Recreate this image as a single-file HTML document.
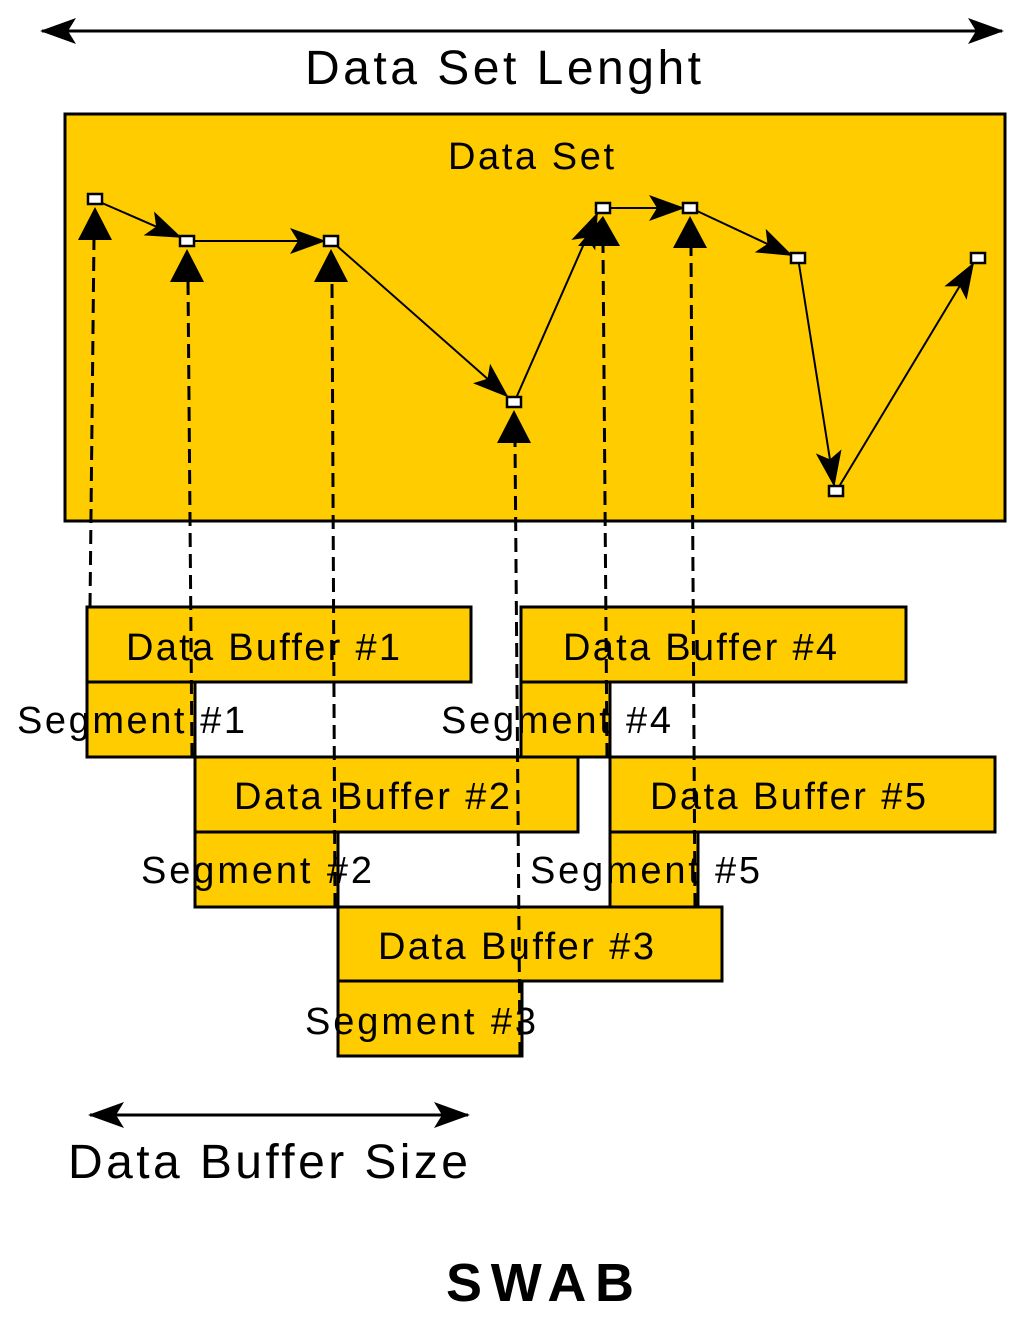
<!DOCTYPE html>
<html><head><style>html,body{margin:0;padding:0;background:#fff}svg{display:block}text{font-family:"Liberation Sans",sans-serif;fill:#000}</style></head><body>
<svg width="1024" height="1321" viewBox="0 0 1024 1321" xmlns="http://www.w3.org/2000/svg">
<defs>
<marker id="a" markerWidth="12" markerHeight="10" refX="11" refY="5" orient="auto" markerUnits="userSpaceOnUse" viewBox="0 0 12 10"><path d="M0,0 L12,5 L0,10 L3,5 z" fill="#000"/></marker>
<marker id="big" markerWidth="36" markerHeight="26" refX="34" refY="13" orient="auto" markerUnits="userSpaceOnUse"><path d="M0,0 L36,13 L0,26 L8,13 z" fill="#000"/></marker>
</defs>
<!-- top arrow -->
<line x1="42" y1="31" x2="1002" y2="31" stroke="#000" stroke-width="3" marker-end="url(#big)"/>
<line x1="1002" y1="31" x2="42" y2="31" stroke="#000" stroke-width="3" marker-end="url(#big)"/>
<text x="305" y="84" font-size="48" textLength="396">Data Set Lenght</text>
<rect x="65" y="114" width="940" height="407" fill="#FFCC00" stroke="#000" stroke-width="3"/>
<text x="448" y="169" font-size="38" textLength="166">Data Set</text>
<!-- boxes -->
<g fill="#FFCC00" stroke="#000" stroke-width="3">
<rect x="87" y="607" width="384" height="75"/><rect x="87" y="682" width="108" height="75"/>
<rect x="195" y="757" width="383" height="75"/><rect x="195" y="832" width="143" height="75"/>
<rect x="338" y="907" width="384" height="74"/><rect x="338" y="981" width="184" height="75"/>
<rect x="521" y="607" width="385" height="75"/><rect x="521" y="682" width="89" height="75"/>
<rect x="610" y="757" width="385" height="75"/><rect x="610" y="832" width="88" height="75"/>
</g>
<g font-size="38">
<text x="126" y="660" textLength="274">Data Buffer #1</text>
<text x="563" y="660" textLength="274">Data Buffer #4</text>
<text x="234" y="809" textLength="276">Data Buffer #2</text>
<text x="650" y="809" textLength="276">Data Buffer #5</text>
<text x="378" y="959" textLength="276">Data Buffer #3</text>
<text x="17" y="733" textLength="228">Segment #1</text>
<text x="441" y="733" textLength="230">Segment #4</text>
<text x="141" y="883" textLength="231">Segment #2</text>
<text x="530" y="883" textLength="230">Segment #5</text>
<text x="305" y="1034" textLength="231">Segment #3</text>
</g>
<!-- dashed verticals -->
<g stroke="#000" stroke-width="3" stroke-dasharray="14,7" fill="none">
<line x1="90" y1="607" x2="94" y2="238"/>
<line x1="192" y1="757" x2="188" y2="280"/>
<line x1="335" y1="907" x2="332" y2="280"/>
<line x1="520" y1="1056" x2="515" y2="440"/>
<line x1="607" y1="757" x2="603" y2="246"/>
<line x1="695" y1="907" x2="691" y2="246"/>
</g>
<g fill="#000">
<path d="M95,207 L78,240 L112,240 z"/>
<path d="M187,249 L170,282 L204,282 z"/>
<path d="M331,249 L314,282 L348,282 z"/>
<path d="M514,410 L497,443 L531,443 z"/>
<path d="M603,216 L578,246 L620,246 z"/>
<path d="M690,216 L673,248 L707,248 z"/>
</g>
<!-- data path -->
<g stroke="#000" stroke-width="2" fill="none" marker-end="url(#big)">
<line x1="102" y1="203" x2="180" y2="237"/>
<line x1="194" y1="241" x2="324" y2="241"/>
<line x1="337" y1="246" x2="507" y2="396"/>
<line x1="517" y1="396" x2="597" y2="214"/>
<line x1="610" y1="208" x2="683" y2="208"/>
<line x1="697" y1="211" x2="791" y2="255"/>
<line x1="799" y1="264" x2="834" y2="485"/>
<line x1="840" y1="485" x2="973" y2="264"/>
</g>
<g fill="#fff" stroke="#000" stroke-width="2.5">
<rect x="88" y="194" width="14" height="10"/>
<rect x="180" y="236" width="14" height="10"/>
<rect x="324" y="236" width="14" height="10"/>
<rect x="507" y="397" width="14" height="10"/>
<rect x="596" y="203" width="14" height="10"/>
<rect x="683" y="203" width="14" height="10"/>
<rect x="791" y="253" width="14" height="10"/>
<rect x="829" y="486" width="14" height="10"/>
<rect x="971" y="253" width="14" height="10"/>
</g>
<!-- bottom arrow -->
<line x1="90" y1="1115" x2="468" y2="1115" stroke="#000" stroke-width="3" marker-end="url(#big)"/>
<line x1="468" y1="1115" x2="90" y2="1115" stroke="#000" stroke-width="3" marker-end="url(#big)"/>
<text x="68" y="1178" font-size="48" textLength="400">Data Buffer Size</text>
<text x="446" y="1301" font-size="54" font-weight="bold" textLength="188">SWAB</text>
</svg>
</body></html>
